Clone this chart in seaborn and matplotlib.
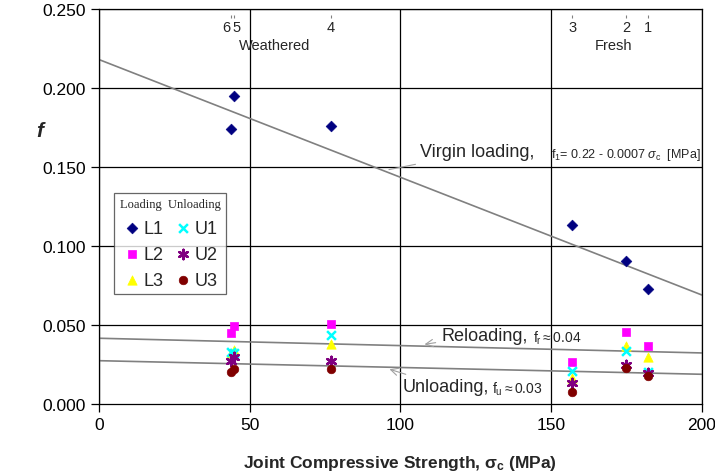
import matplotlib
matplotlib.use("Agg")
import matplotlib.pyplot as plt
import pandas as pd
import seaborn as sns

# sample positions (joint compressive strength, MPa), samples 6,5,4,3,2,1
sigma_c = [43.7, 44.8, 77.0, 157.0, 175.0, 182.0]
sample_ids = ["6", "5", "4", "3", "2", "1"]

# friction factor per series
L1 = [0.174, 0.195, 0.176, 0.113, 0.0905, 0.0725]
L2 = [0.045, 0.0492, 0.0506, 0.0268, 0.0454, 0.0369]
L3 = [0.032, 0.0344, 0.038, 0.0165, 0.0369, 0.0295]
U1 = [0.0331, 0.032, 0.0437, 0.0211, 0.0333, 0.0204]
U2 = [0.0274, 0.030, 0.0274, 0.0133, 0.0247, 0.0196]
U3 = [0.0201, 0.0222, 0.0222, 0.0078, 0.0226, 0.0179]

# fitted lines (end points)
fit_x = [0, 200]
virgin_y = [0.218, 0.069]
reload_y = [0.0416, 0.0323]
unload_y = [0.0274, 0.0188]

series = {
    "L1": (L1, "D", "#000080", 30),
    "L2": (L2, "s", "#FF00FF", 38),
    "L3": (L3, "^", "#FFFF00", 45),
    "U1": (U1, "x", "#00FFFF", 40),
    "U2": (U2, (6, 2, 0), "#800080", 45),
    "U3": (U3, "o", "#800000", 38),
}

sns.set_style("white")
plt.rcParams["font.family"] = ["Liberation Sans", "DejaVu Sans"]
plt.rcParams["mathtext.fontset"] = "custom"
plt.rcParams["mathtext.rm"] = "Liberation Sans"
plt.rcParams["mathtext.it"] = "Liberation Sans:italic"
plt.rcParams["mathtext.bf"] = "Liberation Sans:bold"

fig = plt.figure(figsize=(7.15, 4.77), dpi=100)
ax = fig.add_axes([0.1385, 0.151, 0.843, 0.828])

for x in [0, 50, 100, 150, 200]:
    ax.axvline(x, color="black", lw=0.9, zorder=0)
for y in [0.05, 0.1, 0.15, 0.2, 0.25]:
    ax.axhline(y, color="black", lw=0.9, zorder=0)

for yy in (virgin_y, reload_y, unload_y):
    sns.lineplot(x=fit_x, y=yy, ax=ax, color="#808080", lw=1.2, zorder=1)

for name, (vals, mk, col, sz) in series.items():
    df = pd.DataFrame({"sigma": sigma_c, "f": vals})
    if mk in ("x", (6, 2, 0)):
        sns.scatterplot(data=df, x="sigma", y="f", ax=ax, marker=mk, color=col,
                        s=sz, linewidth=1.8, label=name, zorder=3)
    else:
        sns.scatterplot(data=df, x="sigma", y="f", ax=ax, marker=mk, color=col,
                        s=sz, edgecolor=col, label=name, zorder=3)

ax.set_xlim(0, 200)
ax.set_ylim(0, 0.25)
ax.set_xticks([0, 50, 100, 150, 200])
ax.set_yticks([0, 0.05, 0.1, 0.15, 0.2, 0.25])
ax.set_yticklabels([f"{v:.3f}" for v in ax.get_yticks()])
ax.tick_params(axis="both", direction="out", length=6, width=0.9,
               labelsize=12.5, bottom=True, left=True, colors="black")
for sp in ax.spines.values():
    sp.set_color("black")
    sp.set_linewidth(0.9)
ax.set_xlabel(r"Joint Compressive Strength, $\mathbf{\sigma_c}$ (MPa)",
              fontsize=12.5, fontweight="bold", labelpad=15)
ax.set_ylabel("")
fig.text(0.056, 0.725, "f", fontsize=15, fontweight="bold", style="italic",
         ha="center", va="center")

# sample numbers and weathering classes at the top
ax.vlines(sigma_c, 0.2440, 0.2465, color="#808080", lw=0.8)
for x, s in zip(sigma_c, sample_ids):
    dx = -1.5 if s == "6" else (0.8 if s == "5" else 0)
    ax.text(x + dx, 0.2385, s, ha="center", va="center", fontsize=10.5)
ax.text(58.4, 0.2275, "Weathered", ha="center", va="center", fontsize=10.5)
ax.text(170.6, 0.2275, "Fresh", ha="center", va="center", fontsize=10.5)

# annotations
ax.annotate("Virgin loading,", xy=(95.3, 0.148), xytext=(106.5, 0.1595),
            fontsize=13, va="center", ha="left",
            arrowprops=dict(arrowstyle="-", color="#a0a0a0", lw=0.8))
ax.text(150.0, 0.1585, r"$\mathrm{f_1}$= 0.22 - 0.0007 $\sigma_\mathrm{c}$  [MPa]",
        fontsize=9, va="center", ha="left")
ax.annotate("Reloading,", xy=(107.1, 0.0375), xytext=(113.7, 0.0435),
            fontsize=13, va="center", ha="left",
            arrowprops=dict(arrowstyle="->", color="#a0a0a0", lw=0.8))
ax.text(144.0, 0.0425, r"$\mathrm{f_r}\approx$0.04", fontsize=10, va="center", ha="left")
ax.annotate("Unloading,", xy=(95.5, 0.0225), xytext=(100.9, 0.0108),
            fontsize=13, va="center", ha="left",
            arrowprops=dict(arrowstyle="->", color="#a0a0a0", lw=0.8))
ax.text(130.5, 0.0098, r"$\mathrm{f_u}\approx$0.03", fontsize=10, va="center", ha="left")

handles, labels = ax.get_legend_handles_labels()
leg = ax.legend(handles, labels, ncol=2, loc="upper left",
                bbox_to_anchor=(0.025, 0.534), fontsize=13,
                title="Loading  Unloading", frameon=True, fancybox=False,
                edgecolor="#404040", handletextpad=0.1, columnspacing=0.5,
                handlelength=1.1, borderpad=0.3, labelspacing=0.5,
                borderaxespad=0)
leg.get_title().set_fontfamily("Liberation Serif")
leg.get_title().set_fontsize(9)
leg.get_frame().set_linewidth(0.9)

fig.savefig("out.png", dpi=100)
